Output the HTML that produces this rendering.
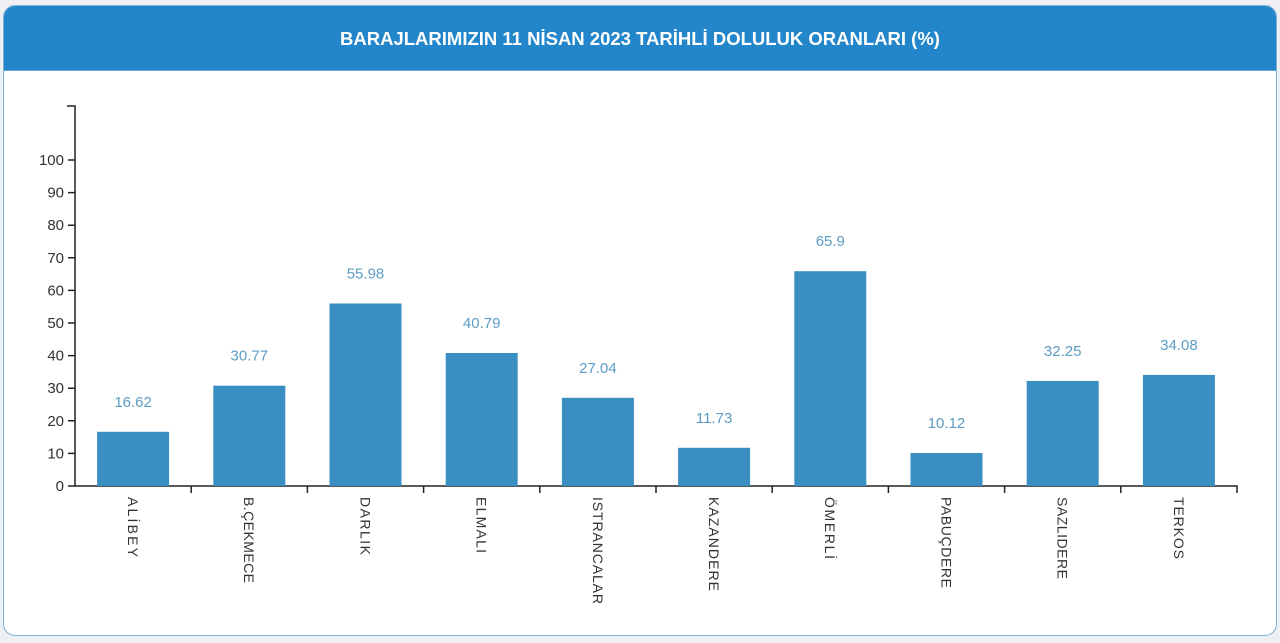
<!DOCTYPE html>
<html><head><meta charset="utf-8"><style>
body{margin:0;background:#eef0f3;width:1280px;height:643px;overflow:hidden;font-family:"Liberation Sans",sans-serif}
.panel{position:absolute;left:3px;top:5px;width:1272px;height:629px;background:#fff;border:1px solid #7fb2d8;border-radius:12px;overflow:hidden}
.hdr{height:64px;background:#2386cb;color:#fff;font-weight:bold;font-size:18.5px;text-align:center;line-height:66px;border-bottom:1px solid #6aa7d6}
svg{position:absolute;left:0;top:0}
</style></head><body>
<div class="panel"><div class="hdr">BARAJLARIMIZIN 11 NİSAN 2023 TARİHLİ DOLULUK ORANLARI (%)</div></div>
<svg width="1280" height="643" font-family="Liberation Sans, sans-serif">
<g stroke="#222" stroke-width="1.5" fill="none">
<path d="M67,106H75V486H1237V493"/>
<path d="M68,486H75M68,453.4H75M68,420.8H75M68,388.2H75M68,355.6H75M68,323H75M68,290.4H75M68,257.8H75M68,225.2H75M68,192.6H75M68,160H75"/>
<path d="M191.2,486V493M307.4,486V493M423.6,486V493M539.8,486V493M656,486V493M772.2,486V493M888.4,486V493M1004.6,486V493M1120.8,486V493"/>
</g>
<g font-size="15" fill="#333" text-anchor="end">
<text x="64" y="491">0</text><text x="64" y="458.4">10</text><text x="64" y="425.8">20</text><text x="64" y="393.2">30</text><text x="64" y="360.6">40</text><text x="64" y="328">50</text><text x="64" y="295.4">60</text><text x="64" y="262.8">70</text><text x="64" y="230.2">80</text><text x="64" y="197.6">90</text><text x="64" y="165">100</text>
</g>
<g fill="#3a8fc2">
<rect x="97.1" y="431.8" width="72" height="54.2"/>
<rect x="213.3" y="385.7" width="72" height="100.3"/>
<rect x="329.5" y="303.5" width="72" height="182.5"/>
<rect x="445.7" y="353" width="72" height="133"/>
<rect x="561.9" y="397.8" width="72" height="88.2"/>
<rect x="678.1" y="447.8" width="72" height="38.2"/>
<rect x="794.3" y="271.2" width="72" height="214.8"/>
<rect x="910.5" y="453" width="72" height="33"/>
<rect x="1026.7" y="380.9" width="72" height="105.1"/>
<rect x="1142.9" y="374.9" width="72" height="111.1"/>
</g>
<g font-size="15" fill="#5d9cc4" text-anchor="middle">
<text x="133.1" y="406.8">16.62</text><text x="249.3" y="360.7">30.77</text><text x="365.5" y="278.5">55.98</text><text x="481.7" y="328">40.79</text><text x="597.9" y="372.8">27.04</text><text x="714.1" y="422.8">11.73</text><text x="830.3" y="246.2">65.9</text><text x="946.5" y="428">10.12</text><text x="1062.7" y="355.9">32.25</text><text x="1178.9" y="349.9">34.08</text>
</g>
<g font-size="14" fill="#333">
<text transform="translate(128,497) rotate(90)" textLength="60">ALİBEY</text>
<text transform="translate(244.2,497) rotate(90)" textLength="86">B.ÇEKMECE</text>
<text transform="translate(360.4,497) rotate(90)" textLength="58">DARLIK</text>
<text transform="translate(476.6,497) rotate(90)" textLength="56">ELMALI</text>
<text transform="translate(592.8,497) rotate(90)" textLength="107">ISTRANCALAR</text>
<text transform="translate(709,497) rotate(90)" textLength="94">KAZANDERE</text>
<text transform="translate(825.2,497) rotate(90)" textLength="62">ÖMERLİ</text>
<text transform="translate(941.4,497) rotate(90)" textLength="91">PABUÇDERE</text>
<text transform="translate(1057.6,497) rotate(90)" textLength="82">SAZLIDERE</text>
<text transform="translate(1173.8,497) rotate(90)" textLength="62">TERKOS</text>
</g>
</svg>
</body></html>
